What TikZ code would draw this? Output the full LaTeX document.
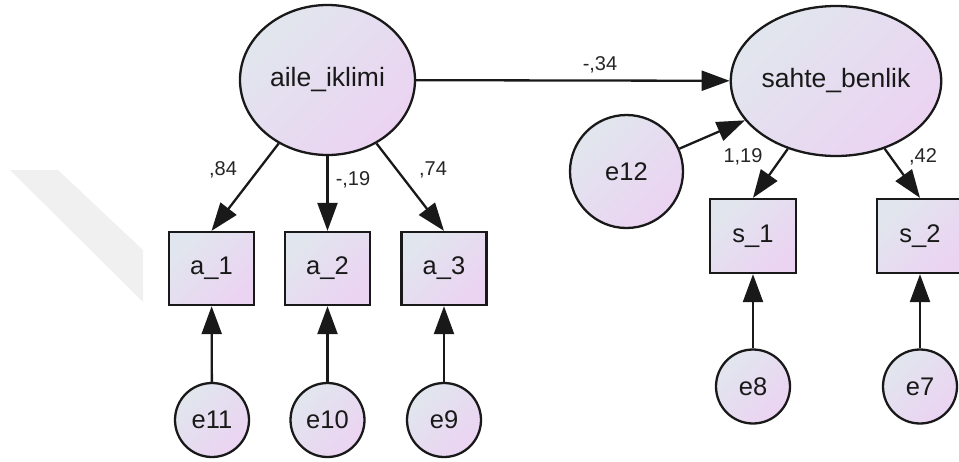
\documentclass[tikz,border=0pt]{standalone}
\usepackage{fontspec}
\setmainfont{Liberation Sans}
\usetikzlibrary{shapes.geometric,arrows.meta}
\definecolor{fillA}{HTML}{E1E6EE}
\definecolor{fillB}{HTML}{EBD3F2}
\definecolor{wm}{HTML}{F0F0F0}
\tikzset{
  base/.style={draw=black!90, line width=2.3pt, top color=fillA, bottom color=fillB, shading angle=45,
    inner sep=0pt, font=\fontsize{25.5}{30}\selectfont, text=black!90},
  latent/.style={base, ellipse, font=\fontsize{26.5}{30}\selectfont},
  errc/.style={base, circle},
  obs/.style={base, rectangle},
  path/.style={draw=black!90, line width=2.3pt, -{Triangle[length=28pt,width=20pt]}},
  coef/.style={font=\fontsize{20}{22}\selectfont, text=black!85, inner sep=0pt}
}
\begin{document}
\begin{tikzpicture}[x=1pt,y=-1pt]
\useasboundingbox (0,0) rectangle (959,461);
\clip (0,0) rectangle (959,461);
\fill[wm] (10,170) -- (58,170) -- (143,250) -- (143,302) -- cycle;

\node[latent, minimum width=175pt, minimum height=150pt] (aile) at (327.5,80) {aile\_iklimi};
\node[latent, minimum width=174pt, minimum height=150pt] (sahte) at (836,81) {sahte\_benlik};
\node[errc, minimum size=113pt] (e12) at (626.5,171.5) {e12};

\node[obs, minimum width=85pt, minimum height=73pt] (a1) at (211.5,268.5) {a\_1};
\node[obs, minimum width=85pt, minimum height=73pt] (a2) at (327.5,268.5) {a\_2};
\node[obs, minimum width=85pt, minimum height=73pt] (a3) at (444,268.5) {a\_3};
\node[obs, minimum width=86pt, minimum height=74pt] (s1) at (753,236) {s\_1};
\node[obs, minimum width=86pt, minimum height=74pt] (s2) at (920,236) {s\_2};

\node[errc, minimum size=74pt] (e11) at (212,420) {e11};
\node[errc, minimum size=74pt] (e10) at (327.5,420) {e10};
\node[errc, minimum size=74pt] (e9) at (444,420) {e9};
\node[errc, minimum size=74pt] (e8) at (753,386.5) {e8};
\node[errc, minimum size=74pt] (e7) at (920,386.5) {e7};

\draw[path] (aile) -- (sahte);
\draw[path] (e12) -- (sahte);
\draw[path] (aile) -- (a1.north);
\draw[path] (aile) -- (a2.north);
\draw[path] (aile) -- (a3.north);
\draw[path] (sahte) -- (s1.north);
\draw[path] (sahte) -- (s2.north);
\draw[path] (e11) -- (a1);
\draw[path] (e10) -- (a2);
\draw[path] (e9) -- (a3);
\draw[path] (e8) -- (s1);
\draw[path] (e7) -- (s2);

\node[coef] (l34) at (600,65) {-,34};
\node[coef] (l84) at (223,170) {,84};
\node[coef] (l19) at (353,180) {-,19};
\node[coef] (l74) at (433,170) {,74};
\node[coef] (l119) at (743,157) {1,19};
\node[coef] (l42) at (923,157) {,42};
\end{tikzpicture}
\end{document}
